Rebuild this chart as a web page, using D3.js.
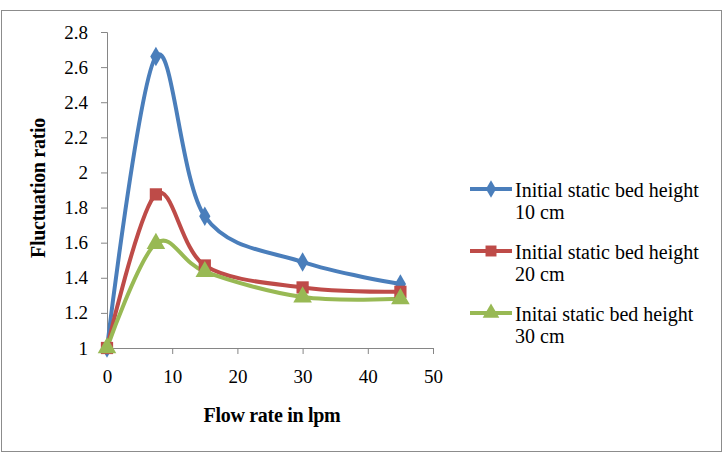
<!DOCTYPE html>
<html>
<head>
<meta charset="utf-8">
<script src="https://cdn.jsdelivr.net/npm/d3@7"></script>
<style>
  body { margin: 0; background: #fff; }
  text { font-family: "Liberation Serif", "DejaVu Serif", serif; fill: #000; }
</style>
</head>
<body>
<script>

// data
var flowRates = [0, 7.5, 15, 30, 45];
var bed10 = [1, 2.66, 1.75, 1.49, 1.365];
var bed20 = [1, 1.875, 1.47, 1.345, 1.32];
var bed30 = [1, 1.595, 1.435, 1.29, 1.28];
var seriesNames = [
    ['Initial static bed height', '10 cm'],
    ['Initial static bed height', '20 cm'],
    ['Initai static bed height', '30 cm']
];
var xTicks = [0, 10, 20, 30, 40, 50];
var yTicks = [1, 1.2, 1.4, 1.6, 1.8, 2, 2.2, 2.4, 2.6, 2.8];

var colors = ['#4A7EBB', '#BE4B48', '#98B954'];
var symbols = [d3.symbolDiamond, d3.symbolSquare, d3.symbolTriangle];

var svg = d3.select('body').append('svg')
    .attr('width', 728)
    .attr('height', 454);

// outer frame
svg.append('rect')
    .attr('x', 1.5).attr('y', 10.5)
    .attr('width', 720).attr('height', 441)
    .attr('fill', 'none')
    .attr('stroke', '#8c8c8c')
    .attr('stroke-width', 1);

var x = d3.scaleLinear().domain([0, 50]).range([107, 433]);
var y = d3.scaleLinear().domain([1, 2.8]).range([348, 32]);

// axes
var xAxis = svg.append('g')
    .attr('transform', 'translate(0,' + y(1) + ')')
    .call(d3.axisBottom(x).tickValues(xTicks).tickSize(6).tickPadding(16).tickFormat(d3.format('d')));

var yAxis = svg.append('g')
    .attr('transform', 'translate(' + x(0) + ',0)')
    .call(d3.axisLeft(y).tickValues(yTicks).tickSize(6).tickPadding(13).tickFormat(d => d3.format('~g')(d)));

[xAxis, yAxis].forEach(a => {
    a.select('.domain').attr('stroke', '#868686');
    a.selectAll('.tick line').attr('stroke', '#868686');
    a.selectAll('text')
        .style('font-family', '"Liberation Serif", serif')
        .style('font-size', '19px')
        .attr('fill', '#000');
});

// axis titles
svg.append('text')
    .attr('x', 272).attr('y', 422)
    .attr('text-anchor', 'middle')
    .style('font-weight', 'bold')
    .style('font-size', '20px')
    .style('letter-spacing', '-0.3px')
    .text('Flow rate in lpm');

svg.append('text')
    .attr('transform', 'translate(45,188) rotate(-90)')
    .attr('text-anchor', 'middle')
    .style('font-weight', 'bold')
    .style('font-size', '20px')
    .style('letter-spacing', '-0.3px')
    .text('Fluctuation ratio');

// lines
var allSeries = [bed10, bed20, bed30];
var line = d3.line()
    .x((d, i) => x(flowRates[i]))
    .y(d => y(d))
    .curve(d3.curveCardinal.tension(0));

allSeries.forEach((vals, k) => {
    svg.append('path')
        .datum(vals)
        .attr('d', line)
        .attr('fill', 'none')
        .attr('stroke', colors[k])
        .attr('stroke-width', 4)
        .attr('stroke-linejoin', 'round');
});

allSeries.forEach((vals, k) => {
    svg.selectAll('.m' + k)
        .data(vals)
        .enter().append('path')
        .attr('class', 'm' + k)
        .attr('transform', (d, i) => 'translate(' + x(flowRates[i]) + ',' + y(d) + ')')
        .attr('d', d3.symbol().type(symbols[k]).size(k == 0 ? 110 : 150))
        .attr('fill', colors[k]);
});

// legend
var legendY = [189, 251, 313];
seriesNames.forEach((name, k) => {
    var g = svg.append('g').attr('transform', 'translate(470,' + legendY[k] + ')');
    g.append('line')
        .attr('x1', 0).attr('x2', 42)
        .attr('stroke', colors[k])
        .attr('stroke-width', 4);
    g.append('path')
        .attr('transform', 'translate(21,0)')
        .attr('d', d3.symbol().type(symbols[k]).size(k == 0 ? 90 : 120))
        .attr('fill', colors[k]);
    g.append('text')
        .attr('x', 45).attr('y', 8)
        .style('font-size', '20px')
        .text(name[0]);
    g.append('text')
        .attr('x', 45).attr('y', 30)
        .style('font-size', '20px')
        .text(name[1]);
});

</script>
</body>
</html>
